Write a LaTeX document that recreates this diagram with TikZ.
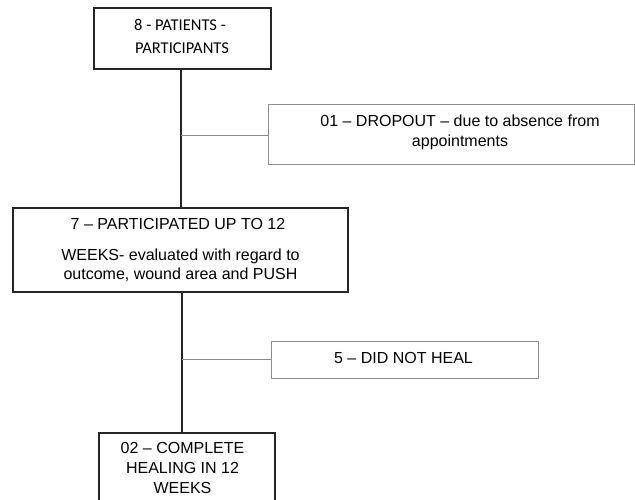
\documentclass[tikz,border=0pt]{standalone}
\usepackage{fontspec}
\setmainfont{Liberation Sans}
\newfontfamily\calib{Carlito}
\begin{document}
\begin{tikzpicture}[x=1pt,y=-1pt,
  darkbox/.style={draw=black!85,line width=1.1pt},
  lightbox/.style={draw=black!45,line width=1pt},
  txt/.style={anchor=base,inner sep=0pt,font=\fontsize{16}{19}\selectfont},
  ctxt/.style={anchor=base,inner sep=0pt,font=\calib\fontsize{16.5}{19}\selectfont},
  mainline/.style={draw=black!85,line width=1.1pt},
  branch/.style={draw=black!45,line width=1pt}]
\useasboundingbox (0,0) rectangle (635,499);
% box 1
\draw[darkbox] (94,8) rectangle (271,69);
\node[ctxt] (t1a) at (180,30) {8 - PATIENTS -};
\node[ctxt] (t1b) at (182,53.3) {PARTICIPANTS};
\coordinate (b1) at (181,69);
% box 2
\draw[lightbox] (268,104) rectangle (634,164);
\node[txt] (t2a) at (460,126.7) {01 -- DROPOUT -- due to absence from};
\node[txt] (t2b) at (460,146) {appointments};
\coordinate (b2l) at (268,135);
% box 3
\draw[darkbox] (13,208) rectangle (348,292);
\node[txt] (t3a) at (178,229) {7 -- PARTICIPATED UP TO 12};
\node[txt] (t3b) at (180.5,260) {WEEKS- evaluated with regard to};
\node[txt] (t3c) at (180.5,279) {outcome, wound area and PUSH};
\coordinate (b3t) at (181,208);
\coordinate (b3b) at (182,292);
% box 4
\draw[lightbox] (271.5,341.7) rectangle (538,378);
\node[txt] (t4) at (403.5,363.3) {5 -- DID NOT HEAL};
\coordinate (b4l) at (271.5,359);
% box 5
\draw[darkbox] (99,433) rectangle (275,510);
\node[txt] (t5a) at (182.5,453) {02 -- COMPLETE};
\node[txt] (t5b) at (182.5,473.5) {HEALING IN 12};
\node[txt] (t5c) at (182.5,493.5) {WEEKS};
\coordinate (b5t) at (182,433);
% connectors
\draw[mainline] (b1) -- (b3t);
\draw[mainline] (b3b) -- (b5t);
\draw[branch] (b2l) -- (b2l -| b1);
\draw[branch] (b4l) -- (b4l -| b3b);
\end{tikzpicture}
\end{document}
